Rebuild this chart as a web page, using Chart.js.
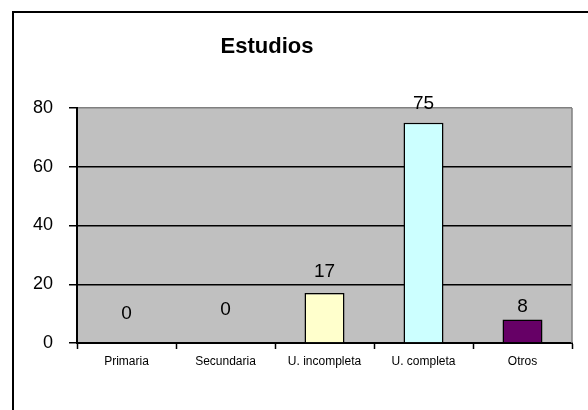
<!DOCTYPE html>
<html>
<head>
<meta charset="utf-8">
<script src="https://cdn.jsdelivr.net/npm/chart.js@4/dist/chart.umd.min.js"></script>
<style>
  html, body { margin: 0; padding: 0; background: #fff; }
  #wrap { width: 588px; height: 410px; position: relative; }
</style>
</head>
<body>
<div id="wrap"><canvas id="c" width="588" height="410"></canvas></div>
<script>
const categories = ['Primaria', 'Secundaria', 'U. incompleta', 'U. completa', 'Otros'];
const values = [0, 0, 17, 75, 8];
const yTicks = [0, 20, 40, 60, 80];
const chartTitle = 'Estudios';

const barColors = ['#ffffcc', '#ffffcc', '#ffffcc', '#ccffff', '#660066'];
// distance (px) between bar top and label baseline, as placed in the reference
const labelOffsets = [24, 28, 16, 14, 8];

const FONT = '"Liberation Sans", Arial, sans-serif';

const decor = {
  id: 'decor',
  beforeDraw(chart) {
    const { ctx, chartArea: a } = chart;
    ctx.save();
    ctx.fillStyle = '#c0c0c0';
    ctx.fillRect(a.left, a.top, a.right - a.left, a.bottom - a.top);
    ctx.restore();
  },
  afterDraw(chart) {
    const { ctx, chartArea: a } = chart;
    ctx.save();
    ctx.strokeStyle = '#808080';
    ctx.lineWidth = 1.5;
    ctx.beginPath();
    ctx.moveTo(a.right, a.top);
    ctx.lineTo(a.right, a.bottom);
    ctx.stroke();
    ctx.strokeStyle = '#000';
    ctx.lineWidth = 2;
    ctx.strokeRect(13, 12, 800, 600);
    ctx.fillStyle = '#000';
    ctx.font = 'bold 22px ' + FONT;
    ctx.textAlign = 'center';
    ctx.textBaseline = 'alphabetic';
    ctx.fillText(chartTitle, 267, 53);
    ctx.restore();
  },
  afterDatasetsDraw(chart) {
    const { ctx } = chart;
    const meta = chart.getDatasetMeta(0);
    ctx.save();
    ctx.fillStyle = '#000';
    ctx.font = '19px ' + FONT;
    ctx.textAlign = 'center';
    ctx.textBaseline = 'alphabetic';
    meta.data.forEach((bar, i) => {
      ctx.fillText(String(values[i]), bar.x, bar.y - labelOffsets[i]);
    });
    ctx.restore();
  }
};

new Chart(document.getElementById('c'), {
  type: 'bar',
  data: {
    labels: categories,
    datasets: [{
      data: values,
      backgroundColor: barColors,
      borderColor: '#000',
      borderWidth: 1.5,
      barPercentage: 0.404,
      categoryPercentage: 1.0
    }]
  },
  options: {
    responsive: false,
    animation: false,
    devicePixelRatio: 1,
    layout: { padding: { top: 108, right: 16, left: 0, bottom: 0 } },
    plugins: {
      legend: { display: false },
      title: { display: false },
      tooltip: { enabled: false }
    },
    scales: {
      x: {
        offset: true,
        grid: {
          offset: true,
          drawOnChartArea: false,
          tickLength: 6,
          tickColor: '#000',
          tickWidth: 1.5
        },
        border: { color: '#000', width: 2 },
        ticks: {
          color: '#000',
          font: { family: FONT, size: 12 },
          padding: 5,
          maxRotation: 0,
          autoSkip: false
        },
        afterFit(scale) { scale.height = 67; }
      },
      y: {
        min: 0,
        max: 80,
        afterBuildTicks(scale) { scale.ticks = yTicks.map(v => ({ value: v })); },
        grid: {
          color: (c) => (c.tick && c.tick.value === 80 ? '#808080' : (c.tick && c.tick.value === 0 ? 'rgba(0,0,0,0)' : '#000')),
          lineWidth: 1.5,
          tickLength: 8,
          tickColor: '#000',
          tickWidth: 1.5
        },
        border: { color: '#000', width: 2 },
        ticks: {
          color: '#000',
          font: { family: FONT, size: 18 },
          padding: 16
        },
        afterFit(scale) { scale.width = 77; }
      }
    }
  },
  plugins: [decor]
});
</script>
</body>
</html>
